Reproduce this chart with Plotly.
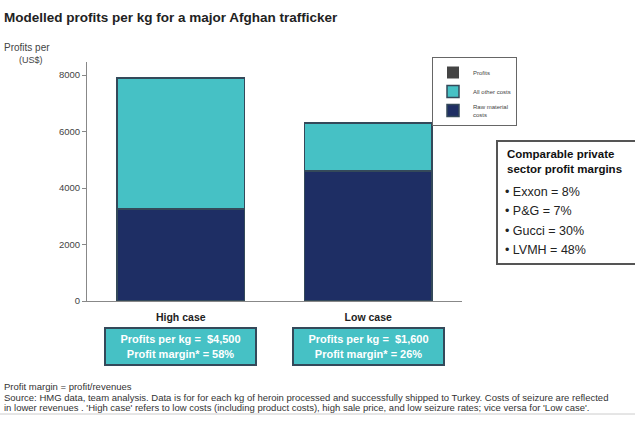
import plotly.graph_objects as go

# ---- data ----
categories = ["High case", "Low case"]
raw_material_costs = [3250, 4600]
all_other_costs = [4650, 1700]
profits_segment = [0, 0]
profit_per_kg = ["$4,500", "$1,600"]
profit_margin = ["58%", "26%"]
y_ticks = [0, 2000, 4000, 6000, 8000]
comparables = ["Exxon = 8%", "P&G = 7%", "Gucci = 30%", "LVMH = 48%"]

NAVY = "#1E2E64"
CYAN = "#46C1C5"
EDGE = "#34495A"

# pixel helpers (plot area: x 87..462, y 62..301)
L, R, T, B = 87, 462, 62, 301
def px(x):
    return (x - L) / (R - L)
def py(y):
    return (B - y) / (B - T)

fig = go.Figure()
fig.add_trace(go.Bar(x=categories, y=raw_material_costs, name="Raw material<br>costs",
                     marker=dict(color=NAVY, line=dict(color=EDGE, width=1.5)), width=0.68))
fig.add_trace(go.Bar(x=categories, y=all_other_costs, name="All other costs",
                     marker=dict(color=CYAN, line=dict(color=EDGE, width=1.5)), width=0.68))
fig.add_trace(go.Bar(x=categories, y=profits_segment, name="Profits",
                     marker=dict(color="#444444", line=dict(color="#444444", width=0)), width=0.68))

ann = []
FONT = "Arial, Liberation Sans, sans-serif"
# title
ann.append(dict(text="<b>Modelled profits per kg for a major Afghan trafficker</b>", x=px(2), y=py(18),
                xref="paper", yref="paper", xanchor="left", yanchor="middle", showarrow=False,
                font=dict(size=13.5, color="#222", family=FONT)))
# y title
ann.append(dict(text="Profits per", x=px(52), y=py(48), xref="paper", yref="paper", xanchor="right",
                yanchor="middle", showarrow=False, font=dict(size=10, color="#444", family=FONT)))
ann.append(dict(text="(US$)", x=px(31), y=py(60), xref="paper", yref="paper", xanchor="center",
                yanchor="middle", showarrow=False, font=dict(size=9, color="#444", family=FONT)))
# summary boxes
for i, c in enumerate(categories):
    ann.append(dict(text=f"<b>Profits per kg =  {profit_per_kg[i]}<br>Profit margin* = {profit_margin[i]}</b>",
                    x=i, xref="x", y=py(346.5), yref="paper", xanchor="center", yanchor="middle",
                    showarrow=False, width=147, height=33, bgcolor=CYAN, bordercolor=EDGE, borderwidth=2,
                    align="center", font=dict(size=11, color="white", family=FONT)))
# comparables box
ann.append(dict(text="<b>Comparable private</b>", x=px(505), y=py(154), xref="paper", yref="paper",
                xanchor="left", yanchor="middle", showarrow=False, font=dict(size=11.5, color="#111", family=FONT)))
ann.append(dict(text="<b>sector profit margins</b>", x=px(505), y=py(169), xref="paper", yref="paper",
                xanchor="left", yanchor="middle", showarrow=False, font=dict(size=11.5, color="#111", family=FONT)))
for j, t in enumerate(comparables):
    ann.append(dict(text="• " + t, x=px(503), y=py(192 + j * 19.3), xref="paper", yref="paper",
                    xanchor="left", yanchor="middle", showarrow=False, font=dict(size=12.5, color="#222", family=FONT)))
# footnotes
foot = [
    ("Profit margin = profit/revenues", 386),
    ("Source: HMG data, team analysis. Data is for for each kg of heroin processed and successfully shipped to Turkey. Costs of seizure are reflected", 397),
    ("in lower revenues . 'High case' refers to low costs (including product costs), high sale price, and low seizure rates; vice versa for 'Low case'.", 407),
]
for t, yy in foot:
    ann.append(dict(text=t, x=px(2), y=py(yy), xref="paper", yref="paper", xanchor="left", yanchor="middle",
                    showarrow=False, font=dict(size=9.5, color="#333", family=FONT)))

shapes = [
    dict(type="rect", xref="paper", yref="paper", x0=px(497), x1=px(645), y0=py(264), y1=py(141),
         line=dict(color="#555", width=2), fillcolor="white", layer="below"),
    dict(type="line", xref="paper", yref="paper", x0=px(0), x1=px(635), y0=py(414), y1=py(414),
         line=dict(color="#ccc", width=1)),
]

fig.update_layout(
    width=635, height=425, barmode="stack",
    margin=dict(l=L, r=635 - R, t=T, b=425 - B, autoexpand=False),
    paper_bgcolor="white", plot_bgcolor="white",
    font=dict(family=FONT, color="#333"),
    bargap=0.3,
    xaxis=dict(range=[-0.5, 1.5], showline=True, linecolor="#888", linewidth=1, ticks="",
               tickvals=[0, 1], ticktext=["<b>" + c + "</b>" for c in categories],
               tickfont=dict(size=10.5, color="#222", family=FONT), ticklabelstandoff=6, fixedrange=True),
    yaxis=dict(range=[0, 8460], tickvals=y_ticks, showgrid=False, zeroline=False, showline=True,
               linecolor="#888", linewidth=1, ticks="outside", ticklen=4, tickcolor="#888",
               tickfont=dict(size=9.5, color="#444", family=FONT), fixedrange=True),
    legend=dict(x=px(432), y=py(57), xanchor="left", yanchor="top", traceorder="reversed",
                bordercolor="#666", borderwidth=1, bgcolor="white", font=dict(size=6, color="#444"),
                itemwidth=30, tracegroupgap=2),
    annotations=ann, shapes=shapes, showlegend=True,
)

fig.write_html("out.html", config={"displayModeBar": False},
               post_script="document.body.style.margin='0';")
